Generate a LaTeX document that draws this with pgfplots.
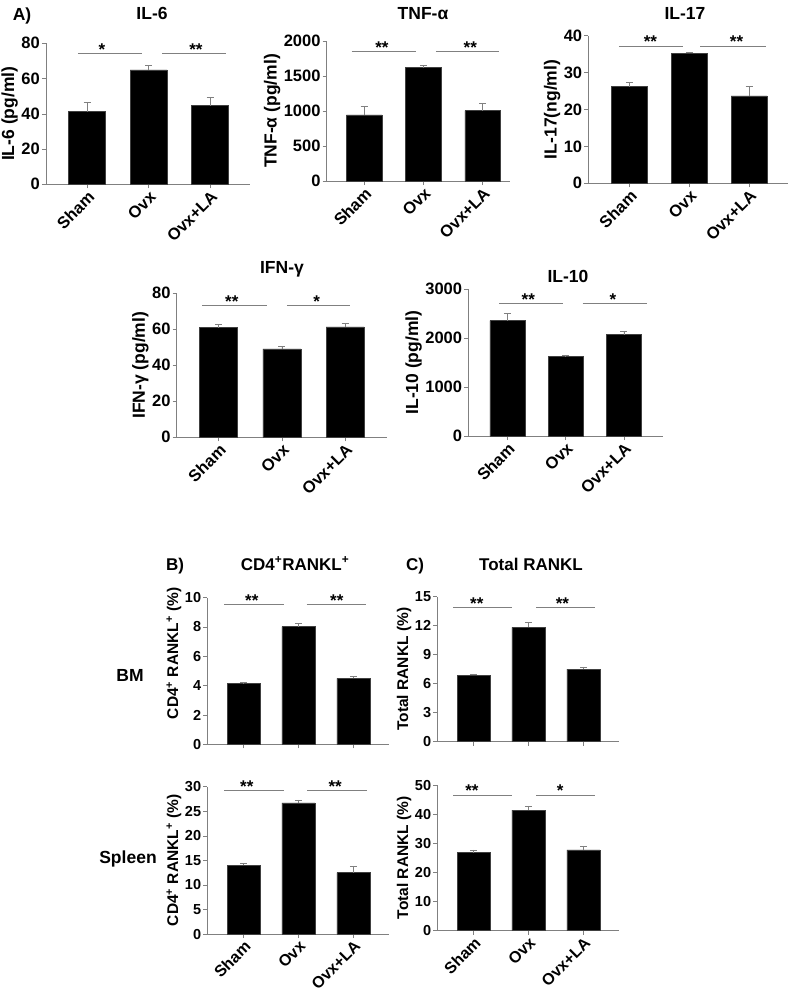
\documentclass[border=0pt]{standalone}
\usepackage{pgfplots}
\pgfplotsset{compat=1.18}
\usepackage{fontspec}
\setmainfont{Liberation Sans}
\newcommand\fs[1]{\fontsize{#1}{#1}\selectfont\bfseries}
\definecolor{axgray}{RGB}{128,128,128}

\tikzset{sigstar/.style={font=\fs{17}, anchor=base, yshift=-2pt, inner sep=0pt}}
\pgfplotsset{
 panel/.style={
  scale only axis, anchor=south west,
  axis x line*=bottom, axis y line*=left,
  axis line style={axgray, line width=0.8pt, -},
  ymin=0, xtick={0,1,2}, xticklabels={Sham,Ovx,Ovx+LA},
  tick align=outside, major tick length=4pt,
  tick style={axgray, line width=0.6pt},
  x tick label style={rotate=45, anchor=north east, font=\fs{16.5}, inner sep=1pt, text=black},
  y tick label style={font=\fs{16.5}, text=black, inner sep=2pt},
  ylabel style={font=\fs{17.5}, yshift=-2pt},
  /pgf/number format/assume math mode=true,
  /pgf/number format/1000 sep={},
  scaled y ticks=false,
  clip=false,
 },
 bars/.style={ybar, bar width=0.6, fill=black, draw=axgray!50!black, line width=0.5pt,
   error bars/y dir=plus, error bars/y explicit,
   error bars/error bar style={axgray, line width=0.7pt},
   error bars/error mark options={rotate=90, mark size=3.5pt, axgray, line width=0.7pt}},
 sig/.style={axgray, line width=0.8pt, mark=none, forget plot},
 small/.style={
  y tick label style={font=\fs{14.5}},
  x tick label style={font=\fs{16}},
  ylabel style={font=\fs{15.5}},
 },
}

\begin{document}
\begin{tikzpicture}
\path[use as bounding box] (0,0) rectangle (791pt,-994pt);

% ---- titles and panel letters
\node[font=\fs{17.5}, anchor=base] at (22pt,-20pt) {A)};
\node[font=\fs{17.5}, anchor=base] at (152pt,-19.5pt) {IL-6};
\node[font=\fs{17.5}, anchor=base] at (423pt,-19.5pt) {TNF-α};
\node[font=\fs{17.5}, anchor=base] at (685pt,-19.5pt) {IL-17};
\node[font=\fs{17.5}, anchor=base] at (282pt,-273pt) {IFN-γ};
\node[font=\fs{17.5}, anchor=base] at (568pt,-282pt) {IL-10};
\node[font=\fs{17}, anchor=base] at (175pt,-570pt) {B)};
\node[font=\fs{17}, anchor=base] at (295pt,-570pt) {CD4\textsuperscript{+}RANKL\textsuperscript{+}};
\node[font=\fs{17}, anchor=base] at (415pt,-570pt) {C)};
\node[font=\fs{17}, anchor=base] at (531pt,-570pt) {Total RANKL};
\node[font=\fs{17.5}, anchor=base] at (130pt,-681pt) {BM};
\node[font=\fs{17.5}, anchor=base] at (128pt,-863pt) {Spleen};

% ---- IL-6
\begin{axis}[panel, at={(46pt,-184.3pt)}, width=204pt, height=141pt,
  xmin=-0.67, xmax=2.65, ymax=80, ytick={0,20,40,60,80}, ylabel={IL-6 (pg/ml)}]
\addplot[bars] coordinates {(0,41.2) +- (0,5.1) (1,64.9) +- (0,2.4) (2,44.6) +- (0,4.5)};
\addplot[sig] coordinates {(-0.15,74.5) (0.89,74.5)};
\addplot[sig] coordinates {(1.22,74.5) (2.26,74.5)};
\node[sigstar] at (axis cs:0.24,74.5) {*};
\node[sigstar] at (axis cs:1.77,74.5) {**};
\end{axis}

% ---- TNF-alpha
\begin{axis}[panel, at={(326.7pt,-181pt)}, width=183.3pt, height=140pt,
  xmin=-0.63, xmax=2.46, ymax=2000, ytick={0,500,1000,1500,2000}, ylabel={TNF-α (pg/ml)}]
\addplot[bars] coordinates {(0,943) +- (0,128) (1,1619) +- (0,28) (2,1005) +- (0,105)};
\addplot[sig] coordinates {(-0.21,1847) (0.88,1847)};
\addplot[sig] coordinates {(1.21,1847) (2.28,1847)};
\node[sigstar] at (axis cs:0.30,1847) {**};
\node[sigstar] at (axis cs:1.79,1847) {**};
\end{axis}

% ---- IL-17
\begin{axis}[panel, at={(588.3pt,-183.3pt)}, width=199.7pt, height=147.7pt,
  xmin=-0.69, xmax=2.65, ymax=40, ytick={0,10,20,30,40}, ylabel={IL-17(ng/ml)}]
\addplot[bars] coordinates {(0,26.2) +- (0,1.1) (1,35.2) +- (0,0.3) (2,23.7) +- (0,2.6)};
\addplot[sig] coordinates {(-0.18,37.2) (0.90,37.2)};
\addplot[sig] coordinates {(1.18,37.2) (2.28,37.2)};
\node[sigstar] at (axis cs:0.35,37.2) {**};
\node[sigstar] at (axis cs:1.79,37.2) {**};
\end{axis}

% ---- IFN-gamma
\begin{axis}[panel, at={(176.7pt,-437.3pt)}, width=210.3pt, height=144pt,
  xmin=-0.66, xmax=2.66, ymax=80, ytick={0,20,40,60,80}, ylabel={IFN-γ (pg/ml)}]
\addplot[bars] coordinates {(0,60.9) +- (0,1.9) (1,49.1) +- (0,1.4) (2,61.3) +- (0,1.8)};
\addplot[sig] coordinates {(-0.26,73.5) (0.76,73.5)};
\addplot[sig] coordinates {(1.08,73.5) (2.08,73.5)};
\node[sigstar] at (axis cs:0.21,73.5) {**};
\node[sigstar] at (axis cs:1.55,73.5) {*};
\end{axis}

% ---- IL-10
\begin{axis}[panel, at={(468.3pt,-436pt)}, width=194.7pt, height=147pt,
  xmin=-0.67, xmax=2.67, ymax=3000, ytick={0,1000,2000,3000}, ylabel={IL-10 (pg/ml)}]
\addplot[bars] coordinates {(0,2353) +- (0,151) (1,1619) +- (0,20) (2,2068) +- (0,68)};
\addplot[sig] coordinates {(-0.14,2707) (0.96,2707)};
\addplot[sig] coordinates {(1.29,2707) (2.39,2707)};
\node[sigstar] at (axis cs:0.36,2707) {**};
\node[sigstar] at (axis cs:1.81,2707) {*};
\end{axis}

% ---- B BM
\begin{axis}[panel, small, at={(207.3pt,-744.3pt)}, width=181.7pt, height=146.7pt,
  xmin=-0.66, xmax=2.65, ymax=10, ytick={0,2,4,6,8,10}, xticklabels={},
  ylabel style={at={(ticklabel cs:0.62)}},
  ylabel={CD4\textsuperscript{+} RANKL\textsuperscript{+} (\%)}]
\addplot[bars] coordinates {(0,4.13) +- (0,0.07) (1,8.02) +- (0,0.23) (2,4.5) +- (0,0.11)};
\addplot[sig] coordinates {(-0.35,9.54) (0.74,9.54)};
\addplot[sig] coordinates {(1.15,9.54) (2.24,9.54)};
\node[sigstar] at (axis cs:0.15,9.54) {**};
\node[sigstar] at (axis cs:1.70,9.54) {**};
\end{axis}

% ---- C BM
\begin{axis}[panel, small, at={(437.3pt,-741.7pt)}, width=181.7pt, height=145pt,
  xmin=-0.66, xmax=2.65, ymax=15, ytick={0,3,6,9,12,15}, xticklabels={},
  ylabel={Total RANKL (\%)}]
\addplot[bars] coordinates {(0,6.9) +- (0,0.1) (1,11.83) +- (0,0.48) (2,7.52) +- (0,0.21)};
\addplot[sig] coordinates {(-0.37,13.86) (0.70,13.86)};
\addplot[sig] coordinates {(1.14,13.86) (2.21,13.86)};
\node[sigstar] at (axis cs:0.06,13.86) {**};
\node[sigstar] at (axis cs:1.62,13.86) {**};
\end{axis}

% ---- B Spleen
\begin{axis}[panel, small, at={(207.3pt,-934pt)}, width=181.7pt, height=147.3pt,
  xmin=-0.66, xmax=2.65, ymax=30, ytick={0,5,10,15,20,25,30},
  ylabel={CD4\textsuperscript{+} RANKL\textsuperscript{+} (\%)}]
\addplot[bars] coordinates {(0,14.0) +- (0,0.4) (1,26.7) +- (0,0.6) (2,12.5) +- (0,1.35)};
\addplot[sig] coordinates {(-0.35,29.3) (0.73,29.3)};
\addplot[sig] coordinates {(1.16,29.3) (2.25,29.3)};
\node[sigstar] at (axis cs:0.06,29.3) {**};
\node[sigstar] at (axis cs:1.67,29.3) {**};
\end{axis}

% ---- C Spleen
\begin{axis}[panel, small, at={(437.3pt,-930.7pt)}, width=181.7pt, height=145.7pt,
  xmin=-0.66, xmax=2.65, ymax=50, ytick={0,10,20,30,40,50},
  ylabel={Total RANKL (\%)}]
\addplot[bars] coordinates {(0,26.8) +- (0,0.9) (1,41.4) +- (0,1.4) (2,27.7) +- (0,1.1)};
\addplot[sig] coordinates {(-0.37,46.6) (0.70,46.6)};
\addplot[sig] coordinates {(1.14,46.6) (2.21,46.6)};
\node[sigstar] at (axis cs:-0.03,46.6) {**};
\node[sigstar] at (axis cs:1.58,46.6) {*};
\end{axis}
\end{tikzpicture}
\end{document}
